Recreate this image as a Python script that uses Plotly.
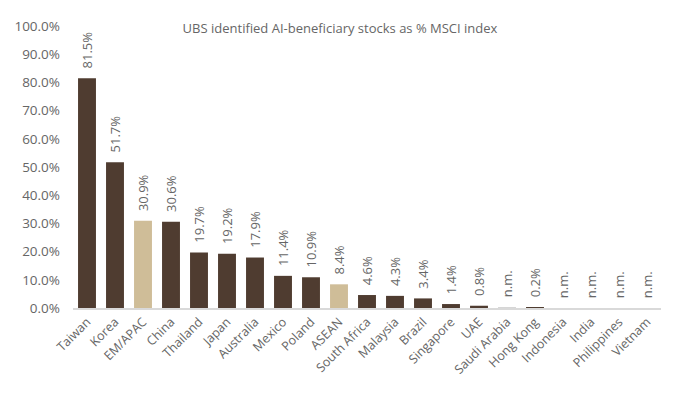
import plotly.graph_objects as go

countries = ["Taiwan", "Korea", "EM/APAC", "China", "Thailand", "Japan", "Australia",
             "Mexico", "Poland", "ASEAN", "South Africa", "Malaysia", "Brazil",
             "Singapore", "UAE", "Saudi Arabia", "Hong Kong", "Indonesia", "India",
             "Philippines", "Vietnam"]
share = [81.5, 51.7, 30.9, 30.6, 19.7, 19.2, 17.9, 11.4, 10.9, 8.4, 4.6, 4.3, 3.4,
         1.4, 0.8, 0.3, 0.2, 0, 0, 0, 0]
labels = ["81.5%", "51.7%", "30.9%", "30.6%", "19.7%", "19.2%", "17.9%", "11.4%",
          "10.9%", "8.4%", "4.6%", "4.3%", "3.4%", "1.4%", "0.8%", "n.m.", "0.2%",
          "n.m.", "n.m.", "n.m.", "n.m."]
aggregates = ["EM/APAC", "ASEAN"]
not_meaningful = ["Saudi Arabia"]

DARK = "#4f3c30"
TAN = "#cfbd98"
GREY = "#d6d6d6"
TXT = "#666666"

colors = []
for c in countries:
    if c in aggregates:
        colors.append(TAN)
    elif c in not_meaningful:
        colors.append(GREY)
    else:
        colors.append(DARK)

fig = go.Figure()
fig.add_trace(go.Bar(
    x=countries, y=share, marker_color=colors, marker_line_width=0,
    text=labels, texttemplate="\u00a0\u00a0%{text}",
    textposition="outside", textangle=-90, cliponaxis=False,
    textfont=dict(size=13, color=TXT, family="Open Sans"),
))

# page body adds 8px, so margins are shifted by that amount
fig.update_layout(
    width=678, height=401,
    margin=dict(l=65, r=25, t=18, b=101),
    paper_bgcolor="white", plot_bgcolor="white",
    bargap=0.36, showlegend=False,
    uniformtext=dict(minsize=13, mode="show"),
    font=dict(family="Open Sans", color=TXT),
    title=dict(text="UBS identified AI-beneficiary stocks as % MSCI index",
               x=332 / 678, xref="container", y=1 - 20 / 401, yanchor="middle",
               font=dict(size=13, color=TXT)),
)
fig.update_xaxes(tickangle=-45, tickfont=dict(size=12.5, color=TXT), automargin=False,
                 showline=True, linecolor="#d9d9d9", linewidth=1.5, ticks="")
fig.update_yaxes(range=[0, 100], dtick=10, tickformat=".1f", ticksuffix="%",
                 showgrid=False, zeroline=False, tickfont=dict(size=13.5, color=TXT),
                 ticklabelstandoff=12, automargin=False)

fig.write_html("out.html")
